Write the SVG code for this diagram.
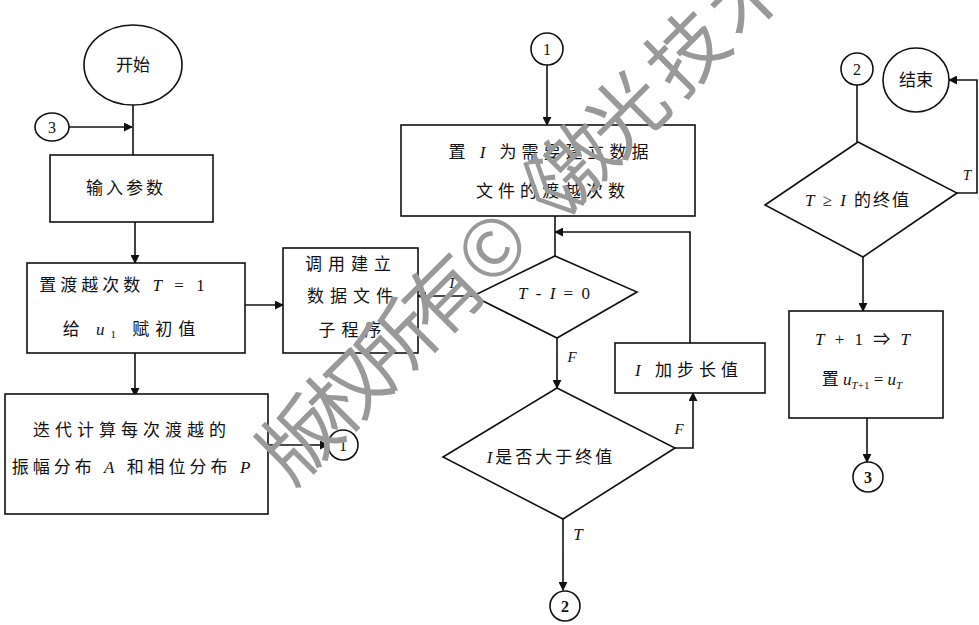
<svg xmlns="http://www.w3.org/2000/svg" width="979" height="625" viewBox="0 0 979 625">
<defs>
<style>
.s{fill:none;stroke:#111;stroke-width:1.6}
.n{fill:#fff;stroke:#111;stroke-width:1.6}
.t{font-family:"Liberation Serif","Noto Sans CJK SC",serif;font-size:17px;fill:#111;text-anchor:middle}
.i{font-style:italic}
.lb{font-family:"Liberation Serif",serif;font-style:italic;font-size:15px;fill:#111;text-anchor:middle}
.c{font-family:"Liberation Serif",serif;font-size:16px;fill:#111;text-anchor:middle}
.wm{font-family:"Noto Sans CJK SC",sans-serif;font-weight:400;font-size:78px;fill:#999;text-anchor:middle}
</style>
<marker id="a" viewBox="0 0 10 10" refX="9" refY="5" markerWidth="9" markerHeight="9" markerUnits="userSpaceOnUse" orient="auto">
<path d="M0,0 L10,5 L0,10 z" fill="#111"/>
</marker>
</defs>
<rect width="979" height="625" fill="#fff"/>
<g id="connectors">
<path class="s" d="M133,105 V155"/>
<path class="s" d="M69,127 H132" marker-end="url(#a)"/>
<path class="s" d="M135,222 V263" marker-end="url(#a)"/>
<path class="s" d="M245,305 H283" marker-end="url(#a)"/>
<path class="s" d="M135,353 V396" marker-end="url(#a)"/>
<path class="s" d="M268,445 H328" marker-end="url(#a)"/>
<path class="s" d="M547,65 V125" marker-end="url(#a)"/>
<path class="s" d="M555,216 V256"/>
<path class="s" d="M473,296 H418" marker-end="url(#a)"/>
<path class="s" d="M557,338 V388" marker-end="url(#a)"/>
<path class="s" d="M675,448 H693 V393" marker-end="url(#a)"/>
<path class="s" d="M690,343 V232 H555" marker-end="url(#a)"/>
<path class="s" d="M563,519 V590" marker-end="url(#a)"/>
<path class="s" d="M857,85 V142"/>
<path class="s" d="M957,193 H977 V80 H949" marker-end="url(#a)"/>
<path class="s" d="M863,257 V311" marker-end="url(#a)"/>
<path class="s" d="M867,418 V462" marker-end="url(#a)"/>
<text class="lb" x="452" y="288">T</text>
<text class="lb" x="572" y="362">F</text>
<text class="lb" x="679" y="434">F</text>
<text class="lb" x="578" y="540" style="font-size:17px">T</text>
<text class="lb" x="967" y="180">T</text>
</g>
<g id="start"><ellipse class="n" cx="133" cy="65" rx="49" ry="40"/><text class="t" x="133" y="71">开始</text></g>
<g id="conn3a"><ellipse class="n" cx="52" cy="127" rx="17" ry="14"/><text class="c" x="52" y="133">3</text></g>
<g id="input"><rect class="n" x="50" y="155" width="163" height="67"/><text class="t" x="126" y="194" letter-spacing="3">输入参数</text></g>
<g id="init"><rect class="n" x="27" y="263" width="218" height="90"/>
<text class="t" x="124" y="291" letter-spacing="4">置渡越次数 <tspan class="i">T</tspan> = 1</text>
<text class="t" x="132" y="335" letter-spacing="6">给 <tspan class="i">u</tspan><tspan font-size="11" dy="3">1</tspan><tspan dy="-3"> 赋初值</tspan></text></g>
<g id="callsub"><rect class="n" x="283" y="248" width="135" height="105"/>
<text class="t" x="351" y="270" letter-spacing="6">调用建立</text>
<text class="t" x="353" y="302" letter-spacing="6">数据文件</text>
<text class="t" x="353" y="336" letter-spacing="6">子程序</text></g>
<g id="iterate"><rect class="n" x="5" y="394" width="263" height="120"/>
<text class="t" x="132" y="436" letter-spacing="5">迭代计算每次渡越的</text>
<text class="t" x="133" y="473" letter-spacing="4">振幅分布 <tspan class="i">A</tspan> 和相位分布 <tspan class="i">P</tspan></text></g>
<g id="conn1a"><circle class="n" cx="343" cy="445" r="15"/><text class="c" x="343" y="451">1</text></g>
<g id="conn1b"><circle class="n" cx="547" cy="49" r="16"/><text class="c" x="547" y="55">1</text></g>
<g id="setI"><rect class="n" x="401" y="125" width="294" height="91"/>
<text class="t" x="551" y="158" letter-spacing="5">置 <tspan class="i">I</tspan> 为需要建立数据</text>
<text class="t" x="553" y="197" letter-spacing="5">文件的渡越次数</text></g>
<g id="d1"><polygon class="n" points="555,256 637,292 557,338 473,296"/>
<text class="t" x="555" y="299" letter-spacing="2"><tspan class="i">T</tspan> - <tspan class="i">I</tspan> = 0</text></g>
<g id="d2"><polygon class="n" points="557,388 675,448 563,519 443,457"/>
<text class="t" x="551" y="463" letter-spacing="3"><tspan class="i">I</tspan>是否大于终值</text></g>
<g id="incI"><rect class="n" x="615" y="343" width="150" height="50"/>
<text class="t" x="689" y="376" letter-spacing="5"><tspan class="i">I</tspan> 加步长值</text></g>
<g id="conn2a"><circle class="n" cx="565" cy="606" r="15"/><text class="c" x="565" y="612" font-weight="bold">2</text></g>
<g id="conn2b"><circle class="n" cx="857" cy="69" r="16"/><text class="c" x="857" y="75">2</text></g>
<g id="end"><ellipse class="n" cx="916" cy="80" rx="33" ry="32"/><text class="t" x="916" y="86">结束</text></g>
<g id="d3"><polygon class="n" points="858,142 957,193 863,257 765,205"/>
<text class="t" x="858" y="206" letter-spacing="2"><tspan class="i">T</tspan> ≥ <tspan class="i">I</tspan> 的终值</text></g>
<g id="incT"><rect class="n" x="789" y="311" width="154" height="107"/>
<text class="t" x="864" y="345" letter-spacing="3"><tspan class="i">T</tspan> + 1 ⇒ <tspan class="i">T</tspan></text>
<text class="t" x="862" y="385">置 <tspan class="i">u</tspan><tspan font-size="11" dy="4" class="i">T</tspan><tspan font-size="11" dy="0">+1</tspan><tspan dy="-4"> = </tspan><tspan class="i">u</tspan><tspan font-size="11" dy="4" class="i">T</tspan></text></g>
<g id="conn3b"><circle class="n" cx="868" cy="477" r="15"/><text class="c" x="868" y="483" font-weight="bold">3</text></g>
<g id="watermark"><text class="wm" transform="translate(300,440) rotate(-45)" x="0 68 136 204 272 334 390 462 548 632 705" y="28">版权所有©《激光技术》</text></g>
</svg>
